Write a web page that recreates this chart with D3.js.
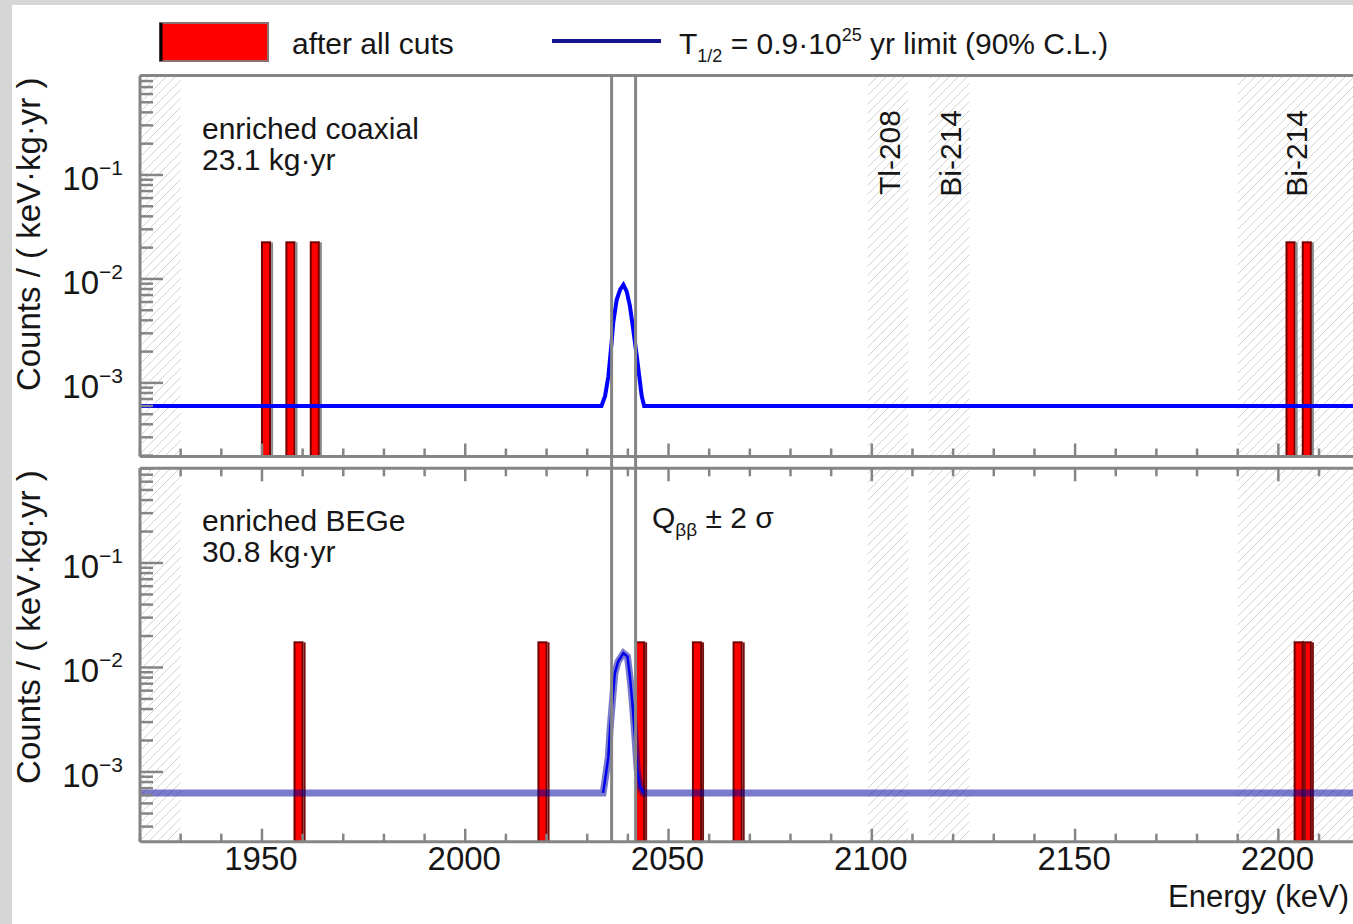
<!DOCTYPE html>
<html>
<head>
<meta charset="utf-8">
<script src="https://cdn.jsdelivr.net/npm/d3@7"></script>
<style>
  body { margin: 0; background: #fff; }
  text { font-family: "Liberation Sans", Arial, sans-serif; fill: #161616; }
</style>
</head>
<body>
<div id="chart"></div>
<script>

// ---- data ----
var binWidth = 2;   // keV
var coaxEvents = [1950, 1956, 1962, 2202, 2206];               // bin low edges
var coaxHeight = 0.0225;
var begeEvents = [1958, 2018, 2042, 2056, 2066, 2204, 2206];
var begeHeight = 0.0174;

// expected signal + background, [energy, counts/(keV kg yr)]
var coaxCurve = [[1920, 6.0e-4], [2033.5, 6.0e-4], [2034.4, 7.5e-4], [2035.2, 1.16e-3],
  [2036.0, 2.44e-3], [2036.4, 3.8e-3], [2037.25, 6.3e-3], [2038.1, 7.9e-3], [2038.9, 8.8e-3],
  [2039.7, 7.6e-3], [2040.5, 5.5e-3], [2041.3, 3.3e-3], [2042.2, 1.8e-3], [2042.8, 1.16e-3],
  [2043.4, 7.5e-4], [2044.0, 6.0e-4], [2220, 6.0e-4]];
var begeCurve = [[1920, 6.3e-4], [2033.9, 6.3e-4], [2034.4, 8.4e-4], [2035.2, 1.4e-3],
  [2035.6, 2.5e-3], [2036.3, 5.3e-3], [2036.8, 8.8e-3], [2037.6, 1.14e-2], [2038.9, 1.37e-2],
  [2039.9, 1.27e-2], [2040.5, 8.2e-3], [2041.1, 4.6e-3], [2041.8, 2.0e-3], [2042.3, 1.04e-3],
  [2043.0, 7.2e-4], [2043.8, 6.3e-4], [2220, 6.3e-4]];

var qbbLines = [2036.0, 2041.9];
var vetoWindows = [[1920, 1930], [2099, 2109], [2114, 2124], [2190, 2220]];
var gammaLines = [{ label: "Tl-208", e: 2104 }, { label: "Bi-214", e: 2119 }, { label: "Bi-214", e: 2204 }];
var xTickLabels = [1950, 2000, 2050, 2100, 2150, 2200];
var yTickLabels = [1e-3, 1e-2, 1e-1];
var yTickText = ["\u22123", "\u22122", "\u22121"];

// ---- layout ----
var width = 1353, height = 924;
var frameCol = "#858585";

var svg = d3.select("#chart").append("svg")
    .attr("width", width)
    .attr("height", height);

svg.append("rect").attr("width", width).attr("height", height).attr("fill", "#d6d6d6");
svg.append("rect").attr("x", 12).attr("y", 5).attr("width", width).attr("height", height).attr("fill", "#fff");

var defs = svg.append("defs");
var pat = defs.append("pattern")
    .attr("id", "hatch")
    .attr("patternUnits", "userSpaceOnUse")
    .attr("width", 9).attr("height", 9);
pat.append("path")
    .attr("d", "M0,9 L9,0 M-2,2 L2,-2 M7,11 L11,7")
    .attr("stroke", "#d2d2d2")
    .attr("stroke-width", 1);

var xScale = d3.scaleLinear()
    .domain([1920, 2220])
    .range([140, 140 + 300 * 4.0656]);

var panels = [
  { top: 75.5, bottom: 456.5, dom: [1.96e-4, 0.905], events: coaxEvents, h: coaxHeight,
    curve: coaxCurve, name: "enriched coaxial", expo: "23.1 kg\u00b7yr", topTicks: false },
  { top: 468.3, bottom: 841.7, dom: [2.15e-4, 0.806], events: begeEvents, h: begeHeight,
    curve: begeCurve, name: "enriched BEGe", expo: "30.8 kg\u00b7yr", topTicks: true }
];

panels.forEach(function(p, pi) {
  var yScale = d3.scaleLog().domain(p.dom).range([p.bottom, p.top]);
  var g = svg.append("g");

  // hatched (excluded) windows
  g.selectAll("rect.veto").data(vetoWindows).enter().append("rect")
      .attr("x", function(d) { return xScale(d[0]); })
      .attr("width", function(d) { return xScale(d[1]) - xScale(d[0]); })
      .attr("y", p.top)
      .attr("height", p.bottom - p.top)
      .attr("fill", "url(#hatch)");

  // events histogram
  g.selectAll("rect.ev").data(p.events).enter().append("rect")
      .attr("x", function(d) { return xScale(d); })
      .attr("width", xScale(binWidth) - xScale(0))
      .attr("y", yScale(p.h))
      .attr("height", p.bottom - yScale(p.h))
      .attr("fill", "#ff0000")
      .attr("stroke", "#700000")
      .attr("stroke-width", 2);
  g.selectAll("line.evedge").data(p.events).enter().append("line")
      .attr("x1", function(d) { return xScale(d + binWidth) + 2; })
      .attr("x2", function(d) { return xScale(d + binWidth) + 2; })
      .attr("y1", yScale(p.h))
      .attr("y2", p.bottom)
      .attr("stroke", pi === 0 ? "#8a8a8a" : "#7a1010")
      .attr("stroke-width", 2);

  var line = d3.line()
      .x(function(d) { return xScale(d[0]); })
      .y(function(d) { return yScale(d[1]); });

  if (pi === 0) {
    g.append("path").datum(p.curve)
        .attr("d", line)
        .attr("fill", "none")
        .attr("stroke", "#0000ff")
        .attr("stroke-width", 4);
  } else {
    g.append("path").datum(p.curve)
        .attr("d", line)
        .attr("fill", "none")
        .attr("stroke", "rgba(0,0,160,0.52)")
        .attr("stroke-width", 7);
    g.append("path").datum(p.curve.slice(1, -1))
        .attr("d", line)
        .attr("fill", "none")
        .attr("stroke", "#0000ee")
        .attr("stroke-width", 2.5);
  }

  // frame
  g.append("line").attr("x1", xScale.range()[0]).attr("x2", width + 10)
      .attr("y1", p.top).attr("y2", p.top)
      .attr("stroke", frameCol).attr("stroke-width", 3);
  g.append("line").attr("x1", xScale.range()[0]).attr("x2", width + 10)
      .attr("y1", p.bottom).attr("y2", p.bottom)
      .attr("stroke", frameCol).attr("stroke-width", 3);
  g.append("line").attr("x1", xScale.range()[0]).attr("x2", xScale.range()[0])
      .attr("y1", p.top).attr("y2", p.bottom)
      .attr("stroke", frameCol).attr("stroke-width", 3);

  // y ticks (log)
  var yt = yScale.ticks().filter(function(v) { return v >= p.dom[0] && v <= p.dom[1]; });
  g.selectAll("line.yt").data(yt).enter().append("line")
      .attr("x1", xScale.range()[0])
      .attr("x2", function(v) {
        var major = Math.abs(Math.log10(v) - Math.round(Math.log10(v))) < 1e-6;
        return xScale.range()[0] + (major ? 23 : 13);
      })
      .attr("y1", function(v) { return yScale(v); })
      .attr("y2", function(v) { return yScale(v); })
      .attr("stroke", frameCol)
      .attr("stroke-width", 2.5);

  yTickLabels.forEach(function(v, i) {
    var t = g.append("text")
        .attr("x", 123)
        .attr("y", yScale(v) + 15)
        .attr("text-anchor", "end")
        .style("font-size", "33px");
    t.append("tspan").text("10");
    t.append("tspan").attr("dy", -15).style("font-size", "21px").text(yTickText[i]);
  });

  // x ticks
  var xt = xScale.ticks(30);
  var tickLen = function(v) { return v % 50 === 0 ? 13 : 8; };
  g.selectAll("line.xb").data(xt).enter().append("line")
      .attr("x1", function(v) { return xScale(v); })
      .attr("x2", function(v) { return xScale(v); })
      .attr("y1", p.bottom)
      .attr("y2", function(v) { return p.bottom - tickLen(v); })
      .attr("stroke", frameCol).attr("stroke-width", 2.5);
  if (p.topTicks) {
    g.selectAll("line.xt").data(xt).enter().append("line")
        .attr("x1", function(v) { return xScale(v); })
        .attr("x2", function(v) { return xScale(v); })
        .attr("y1", p.top)
        .attr("y2", function(v) { return p.top + tickLen(v); })
        .attr("stroke", frameCol).attr("stroke-width", 2.5);
  }

  // panel text
  g.append("text").attr("x", 202).attr("y", p.top + 63)
      .style("font-size", "30px").text(p.name);
  g.append("text").attr("x", 202).attr("y", p.top + 94)
      .style("font-size", "30px").text(p.expo);

  // y title
  g.append("text")
      .attr("transform", "translate(40," + (p.top + 2) + ") rotate(-90)")
      .attr("text-anchor", "end")
      .style("font-size", "33px")
      .text("Counts / ( keV\u00b7kg\u00b7yr )");
});

// Q_bb +- 2 sigma lines
svg.selectAll("line.qbb").data(qbbLines).enter().append("line")
    .attr("x1", function(d) { return xScale(d); })
    .attr("x2", function(d) { return xScale(d); })
    .attr("y1", panels[0].top)
    .attr("y2", panels[1].bottom)
    .attr("stroke", frameCol)
    .attr("stroke-width", 3);

var q = svg.append("text").attr("x", 652).attr("y", 528).style("font-size", "30px");
q.append("tspan").text("Q");
q.append("tspan").attr("dy", 8).style("font-size", "19px").text("\u03b2\u03b2");
q.append("tspan").attr("dy", -8).text(" \u00b1 2 \u03c3");

// gamma line labels
svg.selectAll("text.gl").data(gammaLines).enter().append("text")
    .attr("transform", function(d) { return "translate(" + (xScale(d.e) + 12) + ",110) rotate(-90)"; })
    .attr("text-anchor", "end")
    .style("font-size", "30px")
    .text(function(d) { return d.label; });

// x tick labels + title
svg.selectAll("text.xl").data(xTickLabels).enter().append("text")
    .attr("x", function(d) { return xScale(d) - 1; })
    .attr("y", 870)
    .attr("text-anchor", "middle")
    .style("font-size", "33px")
    .text(function(d) { return d; });

svg.append("text")
    .attr("x", 1349)
    .attr("y", 907)
    .attr("text-anchor", "end")
    .style("font-size", "31px")
    .text("Energy (keV)");

// legend
svg.append("rect")
    .attr("x", 160).attr("y", 23).attr("width", 108).attr("height", 38)
    .attr("fill", "#ff0000")
    .attr("stroke", "#8a7070").attr("stroke-width", 2);
svg.append("line")
    .attr("x1", 161).attr("x2", 161).attr("y1", 23).attr("y2", 61)
    .attr("stroke", "#000").attr("stroke-width", 3);
svg.append("text").attr("x", 292).attr("y", 54)
    .style("font-size", "30px").text("after all cuts");

svg.append("line")
    .attr("x1", 552).attr("x2", 661).attr("y1", 41).attr("y2", 41)
    .attr("stroke", "#14148c").attr("stroke-width", 4);
var lt = svg.append("text").attr("x", 679).attr("y", 54).style("font-size", "30px");
lt.append("tspan").text("T");
lt.append("tspan").attr("dy", 8).style("font-size", "18px").text("1/2");
lt.append("tspan").attr("dy", -8).text(" = 0.9\u00b710");
lt.append("tspan").attr("dy", -13).style("font-size", "18px").text("25");
lt.append("tspan").attr("dy", 13).text(" yr limit (90% C.L.)");

</script>
</body>
</html>
